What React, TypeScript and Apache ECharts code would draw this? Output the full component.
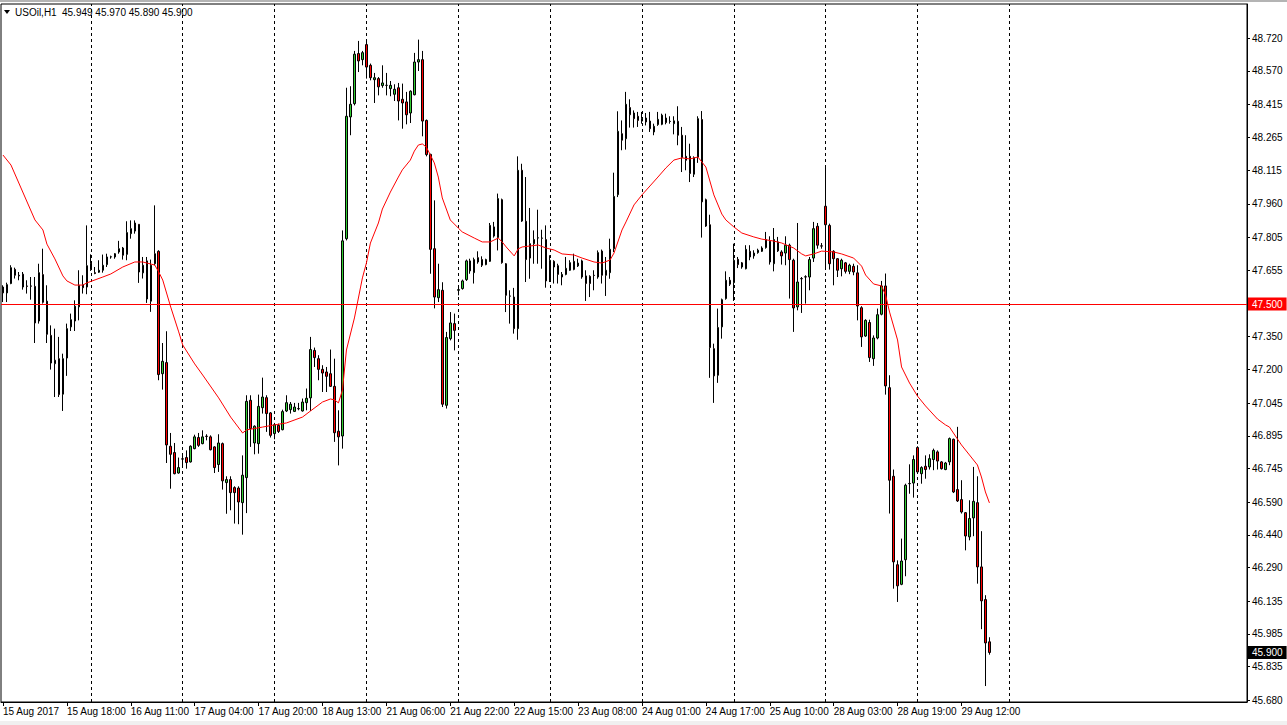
import React, { useEffect, useRef } from "react";
import * as echarts from "echarts";

const opens = [
  47.578, 47.551, 47.594, 47.659, 47.632, 47.637, 47.583, 47.583, 47.581, 47.422,
  47.635, 47.513, 47.356, 47.226, 47.249, 47.086, 47.252, 47.395, 47.422, 47.487,
  47.589, 47.578, 47.685, 47.644, 47.646, 47.655, 47.681, 47.716, 47.716, 47.739,
  47.757, 47.728, 47.823, 47.835, 47.866, 47.643, 47.698, 47.513, 47.685, 47.742,
  47.180, 47.231, 46.847, 46.818, 46.724, 46.789, 46.795, 46.775, 46.836, 46.887,
  46.859, 46.893, 46.890, 46.844, 46.763, 46.859, 46.680, 46.694, 46.657, 46.655,
  46.588, 46.703, 47.058, 46.862, 46.859, 47.024, 47.070, 47.000, 46.905, 46.943,
  46.923, 47.009, 47.015, 47.007, 47.020, 47.009, 47.047, 47.069, 47.287, 47.249,
  47.200, 47.188, 47.180, 47.122, 46.916, 46.894, 47.800, 48.359, 48.420, 48.650,
  48.622, 48.691, 48.596, 48.530, 48.535, 48.503, 48.504, 48.489, 48.463, 48.493,
  48.440, 48.428, 48.377, 48.461, 48.611, 48.622, 48.343, 48.187, 47.754, 47.529,
  47.563, 47.035, 47.341, 47.410, 47.563, 47.571, 47.612, 47.698, 47.644, 47.713,
  47.704, 47.681, 47.696, 47.854, 47.805, 47.979, 47.685, 47.537, 47.532, 47.387,
  48.114, 47.880, 47.711, 47.777, 47.803, 47.803, 47.796, 47.606, 47.696, 47.676,
  47.624, 47.636, 47.655, 47.696, 47.675, 47.698, 47.629, 47.627, 47.632, 47.624,
  47.743, 47.632, 47.644, 47.754, 48.002, 48.282, 48.259, 48.402, 48.377, 48.362,
  48.340, 48.354, 48.340, 48.290, 48.324, 48.325, 48.354, 48.339, 48.328, 48.339,
  48.275, 48.178, 48.178, 48.096, 48.175, 48.347, 47.979, 47.864, 47.295, 47.173,
  47.395, 47.525, 47.609, 47.598, 47.705, 47.689, 47.662, 47.742, 47.721, 47.736,
  47.742, 47.759, 47.788, 47.685, 47.785, 47.739, 47.734, 47.770, 47.701, 47.487,
  47.617, 47.624, 47.624, 47.711, 47.857, 47.767, 47.949, 47.861, 47.742, 47.708,
  47.662, 47.689, 47.650, 47.673, 47.643, 47.483, 47.353, 47.415, 47.249, 47.344,
  47.453, 47.583, 47.116, 46.709, 46.303, 46.213, 46.326, 46.675, 46.678, 46.841,
  46.721, 46.755, 46.752, 46.786, 46.821, 46.775, 46.740, 46.775, 46.879, 46.648,
  46.602, 46.542, 46.431, 46.518, 46.588, 46.293, 46.143, 45.949,
];

const highs = [
  47.586, 47.598, 47.678, 47.667, 47.647, 47.647, 47.609, 47.624, 47.624, 47.685,
  47.754, 47.586, 47.402, 47.387, 47.349, 47.272, 47.410, 47.456, 47.517, 47.655,
  47.632, 47.861, 47.728, 47.670, 47.701, 47.727, 47.731, 47.722, 47.734, 47.790,
  47.762, 47.880, 47.884, 47.884, 47.866, 47.716, 47.716, 47.704, 47.953, 47.747,
  47.321, 47.375, 46.908, 46.862, 46.795, 46.805, 46.828, 46.851, 46.900, 46.908,
  46.920, 46.902, 46.897, 46.847, 46.902, 46.864, 46.709, 46.709, 46.663, 46.663,
  46.805, 47.081, 47.081, 46.943, 47.084, 47.162, 47.081, 47.004, 46.954, 46.951,
  47.015, 47.081, 47.050, 47.046, 47.046, 47.066, 47.112, 47.349, 47.300, 47.265,
  47.219, 47.211, 47.291, 47.249, 47.012, 47.838, 48.493, 48.500, 48.662, 48.708,
  48.662, 48.714, 48.604, 48.561, 48.542, 48.596, 48.561, 48.524, 48.509, 48.515,
  48.512, 48.474, 48.481, 48.653, 48.714, 48.662, 48.347, 48.190, 47.976, 47.685,
  47.600, 47.372, 47.463, 47.456, 47.578, 47.612, 47.704, 47.708, 47.713, 47.742,
  47.719, 47.708, 47.872, 47.877, 48.007, 47.984, 47.688, 47.563, 47.574, 48.178,
  48.144, 48.083, 47.941, 47.838, 47.933, 47.841, 47.861, 47.724, 47.701, 47.685,
  47.647, 47.716, 47.701, 47.731, 47.708, 47.704, 47.655, 47.632, 47.655, 47.746,
  47.750, 47.716, 47.800, 48.103, 48.385, 48.343, 48.474, 48.440, 48.389, 48.382,
  48.382, 48.377, 48.382, 48.328, 48.382, 48.374, 48.374, 48.362, 48.362, 48.408,
  48.313, 48.275, 48.236, 48.178, 48.362, 48.386, 47.984, 47.910, 47.318, 47.479,
  47.525, 47.650, 47.624, 47.777, 47.716, 47.693, 47.770, 47.770, 47.747, 47.754,
  47.765, 47.831, 47.811, 47.849, 47.808, 47.747, 47.811, 47.777, 47.708, 47.872,
  47.624, 47.632, 47.716, 47.877, 47.872, 47.780, 48.137, 47.869, 47.747, 47.711,
  47.708, 47.693, 47.685, 47.685, 47.678, 47.490, 47.430, 47.428, 47.356, 47.479,
  47.606, 47.640, 47.173, 46.740, 46.323, 46.423, 46.675, 46.764, 46.805, 46.847,
  46.755, 46.805, 46.810, 46.836, 46.828, 46.779, 46.775, 46.887, 46.882, 46.936,
  46.691, 46.545, 46.599, 46.752, 46.709, 46.457, 46.163, 45.970,
];

const lows = [
  47.509, 47.509, 47.591, 47.617, 47.609, 47.566, 47.548, 47.520, 47.321, 47.410,
  47.502, 47.321, 47.199, 47.073, 47.073, 47.009, 47.170, 47.376, 47.376, 47.425,
  47.548, 47.545, 47.652, 47.637, 47.643, 47.644, 47.670, 47.708, 47.708, 47.731,
  47.704, 47.701, 47.800, 47.823, 47.597, 47.617, 47.505, 47.464, 47.678, 47.150,
  47.107, 46.770, 46.652, 46.718, 46.721, 46.752, 46.744, 46.772, 46.833, 46.844,
  46.856, 46.874, 46.828, 46.724, 46.729, 46.648, 46.537, 46.553, 46.492, 46.489,
  46.441, 46.540, 46.844, 46.810, 46.813, 46.997, 46.913, 46.887, 46.879, 46.908,
  46.920, 47.004, 46.997, 47.004, 47.012, 47.006, 47.012, 47.009, 47.211, 47.150,
  47.096, 47.096, 47.119, 46.867, 46.759, 46.836, 47.792, 48.275, 48.412, 48.565,
  48.596, 48.535, 48.527, 48.423, 48.458, 48.493, 48.458, 48.454, 48.432, 48.343,
  48.305, 48.325, 48.331, 48.458, 48.570, 48.270, 48.178, 47.639, 47.480, 47.509,
  47.027, 47.020, 47.333, 47.287, 47.540, 47.566, 47.606, 47.639, 47.594, 47.685,
  47.670, 47.678, 47.693, 47.805, 47.746, 47.685, 47.463, 47.410, 47.364, 47.336,
  47.877, 47.601, 47.616, 47.685, 47.685, 47.662, 47.575, 47.601, 47.594, 47.594,
  47.586, 47.632, 47.652, 47.655, 47.670, 47.616, 47.514, 47.532, 47.563, 47.616,
  47.594, 47.537, 47.616, 47.739, 47.991, 48.206, 48.209, 48.310, 48.310, 48.313,
  48.328, 48.320, 48.290, 48.275, 48.318, 48.321, 48.325, 48.328, 48.279, 48.229,
  48.106, 48.114, 48.060, 48.083, 48.148, 47.805, 47.854, 47.161, 47.046, 47.138,
  47.341, 47.520, 47.583, 47.514, 47.665, 47.662, 47.659, 47.701, 47.708, 47.731,
  47.739, 47.754, 47.681, 47.650, 47.739, 47.681, 47.678, 47.525, 47.372, 47.471,
  47.459, 47.502, 47.563, 47.693, 47.754, 47.754, 47.662, 47.658, 47.586, 47.624,
  47.627, 47.640, 47.637, 47.632, 47.425, 47.303, 47.349, 47.234, 47.216, 47.338,
  47.448, 47.084, 46.538, 46.193, 46.132, 46.209, 46.250, 46.629, 46.611, 46.721,
  46.675, 46.698, 46.740, 46.737, 46.740, 46.740, 46.737, 46.760, 46.632, 46.591,
  46.538, 46.369, 46.415, 46.434, 46.216, 46.007, 45.746, 45.890,
];

const closes = [
  47.551, 47.589, 47.667, 47.632, 47.629, 47.578, 47.581, 47.582, 47.413, 47.644,
  47.508, 47.361, 47.229, 47.242, 47.084, 47.249, 47.387, 47.428, 47.490, 47.586,
  47.575, 47.676, 47.658, 47.640, 47.655, 47.678, 47.716, 47.717, 47.731, 47.754,
  47.724, 47.828, 47.846, 47.872, 47.647, 47.678, 47.523, 47.678, 47.731, 47.176,
  47.237, 46.853, 46.810, 46.721, 46.749, 46.788, 46.772, 46.847, 46.890, 46.851,
  46.890, 46.892, 46.831, 46.749, 46.862, 46.688, 46.694, 46.634, 46.634, 46.591,
  46.714, 47.053, 46.928, 46.939, 47.030, 47.073, 46.997, 46.897, 46.946, 46.915,
  47.006, 47.047, 47.040, 47.027, 47.019, 47.050, 47.067, 47.291, 47.254, 47.200,
  47.183, 47.168, 47.122, 46.909, 46.890, 47.790, 48.362, 48.417, 48.647, 48.616,
  48.654, 48.588, 48.539, 48.539, 48.497, 48.515, 48.504, 48.504, 48.486, 48.432,
  48.423, 48.369, 48.477, 48.611, 48.622, 48.340, 48.186, 47.751, 47.532, 47.566,
  47.040, 47.346, 47.413, 47.379, 47.566, 47.606, 47.698, 47.652, 47.704, 47.693,
  47.678, 47.704, 47.861, 47.812, 47.984, 47.690, 47.540, 47.536, 47.387, 48.114,
  47.881, 47.704, 47.777, 47.796, 47.804, 47.802, 47.606, 47.701, 47.670, 47.636,
  47.636, 47.664, 47.690, 47.659, 47.688, 47.624, 47.594, 47.594, 47.631, 47.736,
  47.632, 47.655, 47.751, 47.994, 48.293, 48.252, 48.417, 48.369, 48.351, 48.343,
  48.351, 48.336, 48.305, 48.316, 48.348, 48.367, 48.333, 48.338, 48.341, 48.275,
  48.172, 48.160, 48.099, 48.172, 48.351, 47.969, 47.858, 47.300, 47.170, 47.392,
  47.520, 47.609, 47.591, 47.701, 47.681, 47.670, 47.751, 47.716, 47.734, 47.747,
  47.757, 47.796, 47.693, 47.796, 47.744, 47.721, 47.770, 47.704, 47.482, 47.601,
  47.616, 47.625, 47.704, 47.846, 47.770, 47.766, 47.864, 47.685, 47.708, 47.655,
  47.701, 47.650, 47.678, 47.647, 47.491, 47.349, 47.425, 47.254, 47.344, 47.451,
  47.583, 47.124, 46.691, 46.316, 46.206, 46.320, 46.668, 46.676, 46.786, 46.729,
  46.749, 46.740, 46.790, 46.828, 46.779, 46.744, 46.770, 46.882, 46.637, 46.596,
  46.545, 46.435, 46.515, 46.594, 46.293, 46.137, 45.944, 45.900,
];

// moving average (red line), read at these bar positions
const maBars = [
  0, 2, 8, 10, 11, 13, 15, 16, 18, 20, 21, 25, 27, 30, 33, 35, 38, 39, 40, 42,
  44, 45, 48, 50, 54, 57, 60, 61, 65, 68, 71, 75, 77, 80, 82, 83, 84, 85, 86, 88,
  90, 91, 92, 94, 95, 97, 99, 100, 102, 103, 104, 105, 106, 108, 109, 110, 112, 114, 115, 118,
  120, 122, 124, 125, 126, 128, 129, 130, 134, 136, 138, 140, 143, 145, 148, 150, 152, 153, 155, 156,
  158, 160, 162, 164, 166, 168, 170, 172, 174, 175, 176, 178, 180, 181, 183, 185, 188, 190, 193, 195,
  198, 200, 201, 203, 205, 208, 210, 213, 215, 216, 218, 220, 221, 222, 224, 225, 227, 229, 231, 234,
  236, 237, 239, 240, 242, 244, 245, 246, 247,
];
const maValues = [
  48.184, 48.138, 47.886, 47.840, 47.775, 47.707, 47.629, 47.606, 47.587, 47.587, 47.597, 47.624, 47.638, 47.670, 47.693, 47.693, 47.679, 47.647, 47.610, 47.486,
  47.372, 47.312, 47.225, 47.174, 47.069, 46.981, 46.908, 46.922, 46.935, 46.945, 46.954, 46.981, 47.009, 47.050, 47.064, 47.060, 47.046, 47.105, 47.289, 47.436,
  47.620, 47.688, 47.780, 47.872, 47.936, 48.014, 48.083, 48.116, 48.161, 48.202, 48.230, 48.235, 48.221, 48.148, 48.083, 47.987, 47.886, 47.849, 47.831, 47.803,
  47.785, 47.785, 47.803, 47.785, 47.762, 47.721, 47.753, 47.762, 47.771, 47.757, 47.748, 47.730, 47.725, 47.711, 47.693, 47.688, 47.702, 47.734, 47.840, 47.877,
  47.955, 48.001, 48.042, 48.083, 48.125, 48.161, 48.171, 48.166, 48.175, 48.152, 48.129, 48.001, 47.913, 47.886, 47.854, 47.826, 47.808, 47.798, 47.789, 47.780,
  47.757, 47.730, 47.721, 47.730, 47.743, 47.739, 47.730, 47.711, 47.674, 47.633, 47.592, 47.583, 47.541, 47.463, 47.335, 47.211, 47.137, 47.077, 47.032, 46.972,
  46.945, 46.935, 46.880, 46.853, 46.807, 46.761, 46.706, 46.637, 46.587,
];

const timeLabels = [
  "15 Aug 2017", "15 Aug 18:00", "16 Aug 11:00", "17 Aug 04:00", "17 Aug 20:00",
  "18 Aug 13:00", "21 Aug 06:00", "21 Aug 22:00", "22 Aug 15:00", "23 Aug 08:00",
  "24 Aug 01:00", "24 Aug 17:00", "25 Aug 10:00", "28 Aug 03:00", "28 Aug 19:00",
  "29 Aug 12:00",
];
const labelStep = 16;
const daySeparators = [22, 45, 68, 91, 114, 137, 160, 183, 206, 229, 252];
const priceTicks = [
  45.68, 45.835, 45.985, 46.135, 46.29, 46.44, 46.59, 46.745, 46.895, 47.045,
  47.2, 47.35, 47.5, 47.655, 47.805, 47.96, 48.115, 48.265, 48.415, 48.57, 48.72,
];
const priceMin = 45.6727;
const priceMax = 48.8775;
const levelLine = 47.5;
const symbolName = "USOil,H1";
const totalSlots = 312;

const FONT = "'Liberation Sans', Arial, sans-serif";
const GREEN = "#32cd32";
const RED = "#ff0000";

export default function App() {
  const ref = useRef<HTMLDivElement>(null);

  useEffect(() => {
    if (!ref.current) return;
    const chart = echarts.init(ref.current, null, { renderer: "svg" });
    const cats = Array.from({ length: totalSlots }, (_, i) => String(i));
    const candles = opens.map((o, i) => [o, closes[i], lows[i], highs[i]]);
    const ma = maBars.map((b, i) => [b, maValues[i]]);
    const last = opens.length - 1;
    const isLabel = (i: number) => i % labelStep === 0 && i / labelStep < timeLabels.length;
    const ohlcText = [opens[last], highs[last], lows[last], closes[last]].map((v) => v.toFixed(3)).join(" ");

    chart.setOption({
      animation: false,
      backgroundColor: "#ffffff",
      textStyle: { fontFamily: FONT },
      grid: {
        left: 0,
        right: 40,
        top: 4,
        bottom: 23,
        show: true,
        borderColor: "#000",
        borderWidth: 1,
        backgroundColor: "#ffffff",
      },
      xAxis: {
        type: "category",
        data: cats,
        boundaryGap: true,
        axisLine: { show: true, lineStyle: { color: "#000", width: 1 } },
        axisTick: {
          show: true,
          alignWithLabel: true,
          interval: (i: number) => isLabel(i),
          length: 4,
          lineStyle: { color: "#000" },
        },
        axisLabel: {
          interval: (i: number) => isLabel(i),
          formatter: (_v: string, i: number) => (isLabel(i) ? timeLabels[i / labelStep] : ""),
          align: "left",
          margin: 4,
          color: "#000",
          fontSize: 10,
          fontFamily: FONT,
        },
        splitLine: { show: false },
      },
      yAxis: {
        type: "value",
        position: "right",
        min: priceMin,
        max: priceMax,
        axisLine: { show: true, lineStyle: { color: "#000" } },
        axisTick: { show: true, length: 3, customValues: priceTicks, lineStyle: { color: "#000" } },
        axisLabel: {
          customValues: priceTicks.filter((v) => v !== levelLine),
          formatter: (v: number) => v.toFixed(3),
          margin: 5,
          color: "#000",
          fontSize: 10,
          fontFamily: FONT,
        },
        splitLine: { show: false },
      },
      graphic: [
        { type: "rect", left: 0, top: 0, shape: { width: 1287, height: 2 }, style: { fill: "#b4b4b4" }, silent: true },
        { type: "rect", left: 0, top: 721, shape: { width: 1287, height: 4 }, style: { fill: "#f0f0f0" }, silent: true },
        { type: "polygon", shape: { points: [[4, 10], [10, 10], [7, 14]] }, style: { fill: "#000" }, silent: true },
        { type: "text", left: 15, top: 7, style: { text: symbolName, fill: "#000", font: `10px ${FONT}` }, silent: true },
        { type: "text", left: 62, top: 7, style: { text: ohlcText, fill: "#000", font: `10px ${FONT}` }, silent: true },
      ],
      series: [
        {
          type: "candlestick",
          name: "USOil",
          data: candles,
          barWidth: 2,
          z: 3,
          itemStyle: {
            color: GREEN,
            color0: RED,
            borderColor: "#000",
            borderColor0: "#000",
            borderColorDoji: "#000",
            borderWidth: 1,
          },
          markLine: {
            silent: true,
            z: 1,
            symbol: ["none", "none"],
            label: { show: false },
            lineStyle: { color: "#000", width: 1, type: [3, 3] },
            data: daySeparators.map((b) => ({ xAxis: String(b) })),
          },
        },
        {
          type: "line",
          name: "MA",
          data: ma,
          symbol: "none",
          z: 4,
          lineStyle: { color: RED, width: 1 },
          markLine: {
            silent: true,
            symbol: ["none", "none"],
            data: [
              {
                yAxis: levelLine,
                lineStyle: { color: RED, width: 1, type: "solid" },
                label: {
                  show: true,
                  position: "end",
                  distance: 1,
                  formatter: levelLine.toFixed(3),
                  color: "#fff",
                  backgroundColor: RED,
                  padding: [2, 4, 1, 4],
                  fontSize: 10,
                  fontFamily: FONT,
                },
              },
              {
                yAxis: closes[last],
                lineStyle: { color: "rgba(0,0,0,0)", width: 0 },
                label: {
                  show: true,
                  position: "end",
                  distance: 1,
                  formatter: closes[last].toFixed(3),
                  color: "#fff",
                  backgroundColor: "#000",
                  padding: [2, 4, 1, 4],
                  fontSize: 10,
                  fontFamily: FONT,
                },
              },
            ],
          },
        },
      ],
    });

    return () => {
      chart.dispose();
    };
  }, []);

  return (
    <div
      ref={ref}
      style={{ position: "absolute", left: 0, top: 0, width: 1287, height: 725, background: "#fff" }}
    />
  );
}
